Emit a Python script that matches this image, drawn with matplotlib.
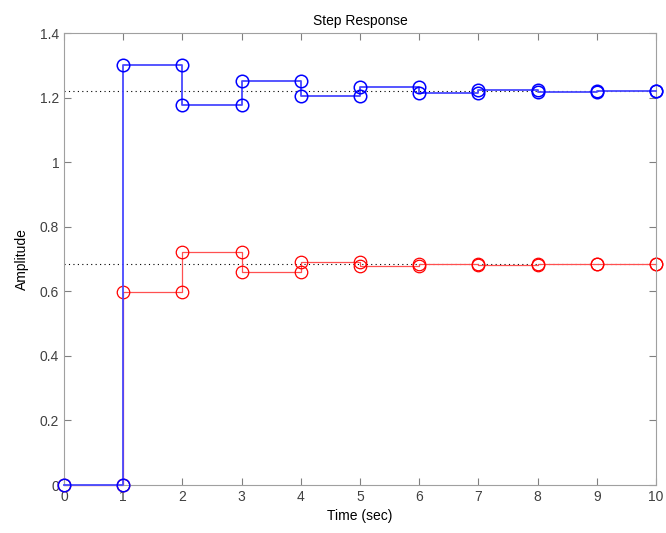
import numpy as np
import matplotlib
matplotlib.use("Agg")
import matplotlib.pyplot as plt

t = np.arange(0, 11)
y_blue = [0, 1.30, 1.177, 1.251, 1.205, 1.233, 1.215, 1.225, 1.218, 1.221, 1.221]
y_red = [0, 0.599, 0.7226, 0.6606, 0.6916, 0.679, 0.6834, 0.6828, 0.6832, 0.6831, 0.6831]
final_blue = 1.221
final_red = 0.6831
xticks = list(range(0, 11))
yticks = [0, 0.2, 0.4, 0.6, 0.8, 1.0, 1.2, 1.4]
ytick_labels = ["0", "0.2", "0.4", "0.6", "0.8", "1", "1.2", "1.4"]

plt.rcParams['font.family'] = ['Liberation Sans', 'DejaVu Sans']

fig = plt.figure(figsize=(6.66, 5.33), dpi=100)
ax = fig.add_axes([0.0961, 0.090, 0.8889, 0.848])


def stairs(x, y):
    x = np.asarray(x, float)
    y = np.asarray(y, float)
    xs = np.empty(2 * len(x) - 1)
    ys = np.empty(2 * len(x) - 1)
    xs[0::2] = x
    xs[1::2] = x[1:]
    ys[0::2] = y
    ys[1::2] = y[:-1]
    return xs, ys


ax.plot([t[0], t[-1]], [final_blue, final_blue], ls=(0, (1, 3)), color='black', lw=0.8)
ax.plot([t[0], t[-1]], [final_red, final_red], ls=(0, (1, 3)), color='black', lw=0.8)

xs, ys = stairs(t, y_red)
ax.plot(xs, ys, color='#ff5050', lw=0.9, clip_on=False, zorder=2)
ax.plot(xs, ys, ls='none', marker='o', mfc='none', mec='red', ms=9, mew=0.9,
        clip_on=False, zorder=2)
xs, ys = stairs(t, y_blue)
ax.plot(xs, ys, color='#4848ff', lw=1.3, clip_on=False, zorder=3)
ax.plot(xs, ys, ls='none', marker='o', mfc='none', mec='blue', ms=9, mew=1.1,
        clip_on=False, zorder=3)

ax.set_xlim(0, 10)
ax.set_ylim(0, 1.4)
ax.set_xticks(xticks)
ax.set_yticks(yticks)
ax.set_yticklabels(ytick_labels)
ax.tick_params(direction='in', top=True, right=True, colors='#808080',
               labelcolor='#404040', labelsize=10, length=5)
for s in ax.spines.values():
    s.set_color('#a0a0a0')
ax.set_xlabel('Time (sec)', fontsize=10)
ax.set_ylabel('Amplitude', fontsize=10, labelpad=8)
ax.set_title('Step Response', fontsize=10)

fig.savefig('out.png', dpi=100)
